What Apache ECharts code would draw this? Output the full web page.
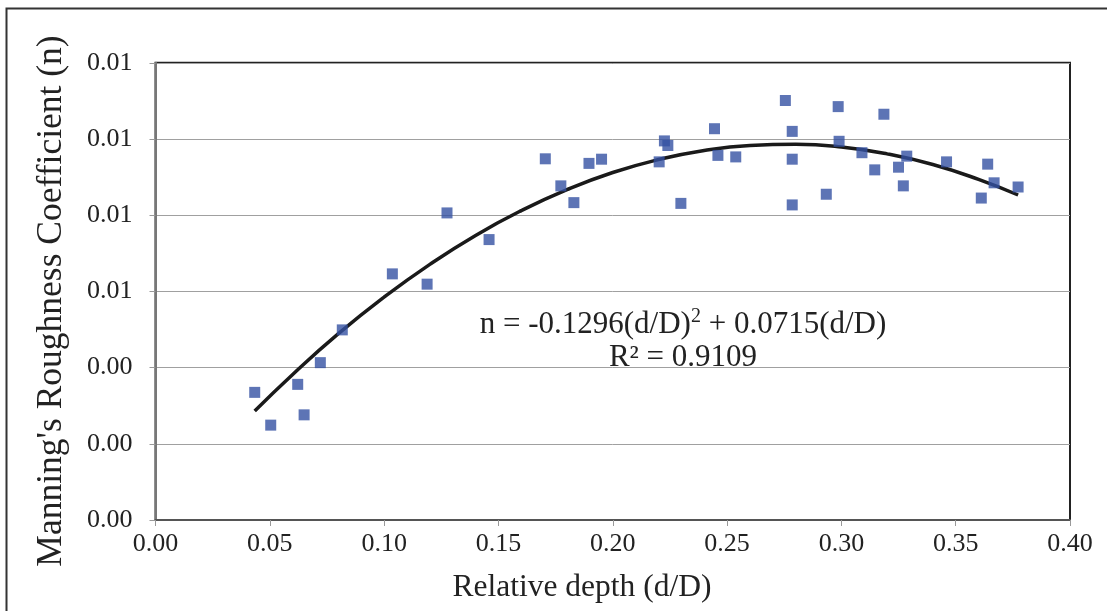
<!DOCTYPE html>
<html>
<head>
<meta charset="utf-8">
<script src="https://cdn.jsdelivr.net/npm/echarts@6/dist/echarts.min.js"></script>
<style>
html,body{margin:0;padding:0;background:#fff;}
#chart{width:1107px;height:611px;}
</style>
</head>
<body>
<div id="chart"></div>
<script>
// Measured data (relative depth d/D, Manning's n)
var depthValues = [0.0434,0.0504,0.0622,0.0650,0.0721,0.0817,0.1036,0.1188,0.1275,0.1459,
  0.1705,0.1773,0.1830,0.1896,0.1951,0.2203,0.2226,0.2241,0.2298,0.2445,
  0.2460,0.2538,0.2755,0.2785,0.2785,0.2785,0.2934,0.2986,0.2990,0.3090,
  0.3146,0.3186,0.3250,0.3271,0.3286,0.3460,0.3612,0.3640,0.3668,0.3773];
var manningValues = [0.00335,0.00249,0.00356,0.00276,0.00413,0.00499,0.00646,0.00619,0.00806,0.00736,
  0.00948,0.00877,0.00833,0.00936,0.00947,0.00940,0.00995,0.00983,0.00831,0.01027,
  0.00957,0.00953,0.01101,0.01020,0.00947,0.00827,0.00855,0.01085,0.00994,0.00964,
  0.00919,0.01065,0.00926,0.00877,0.00955,0.00940,0.00845,0.00934,0.00885,0.00874];
// Trend line points
var trendX = [0.0434,0.06,0.08,0.10,0.12,0.14,0.16,0.18,0.20,0.22,0.24,0.26,0.28,0.30,0.32,0.34,0.36,0.3773];
var trendY = [0.00286,0.00382,0.00489,0.00585,0.00671,0.00747,0.00812,0.00867,0.00912,0.00946,0.00970,0.00983,0.00986,0.00979,0.00961,0.00933,0.00894,0.00853];
var xTicks = [0,0.05,0.10,0.15,0.20,0.25,0.30,0.35,0.40];
var yTicks = [0,0.002,0.004,0.006,0.008,0.010,0.012];
var xTitle = 'Relative depth (d/D)';
var yTitle = "Manning's Roughness Coefficient (n)";
var equationText = ['n = -0.1296(d/D)', '2', ' + 0.0715(d/D)'];
var r2Text = 'R² = 0.9109';

var font = '"Liberation Serif","Times New Roman",serif';
var chart = echarts.init(document.getElementById('chart'), null, {renderer:'canvas'});
var pts = depthValues.map(function(x,i){return [x, manningValues[i]];});
var trend = trendX.map(function(x,i){return [x, trendY[i]];});

chart.setOption({
  backgroundColor:'#fff',
  animation:false,
  grid:{left:155.5, right:37, top:62.8, bottom:91, show:true, borderColor:'#222', borderWidth:2, backgroundColor:'transparent'},
  xAxis:{
    type:'value', min:xTicks[0], max:xTicks[xTicks.length-1], interval:0.05,
    axisLine:{show:true, onZero:false, lineStyle:{color:'#555', width:2}},
    axisTick:{show:true, length:6, lineStyle:{color:'#999'}},
    axisLabel:{fontFamily:font, fontSize:26, color:'#222', margin:11, formatter:function(v){return v.toFixed(2);}},
    splitLine:{show:false}
  },
  yAxis:{
    type:'value', min:yTicks[0], max:yTicks[yTicks.length-1], interval:0.002,
    axisLine:{show:true, onZero:false, lineStyle:{color:'#777', width:2}},
    axisTick:{show:true, length:6, lineStyle:{color:'#999'}},
    axisLabel:{fontFamily:font, fontSize:26, color:'#222', margin:23, formatter:function(v){return v.toFixed(2);}},
    splitLine:{show:true, lineStyle:{color:'#a0a0a0', width:1}}
  },
  series:[
    {type:'scatter', data:pts, symbol:'rect', symbolSize:11,
     itemStyle:{color:'#3551A3'}, z:3},
    {type:'line', data:trend, smooth:true, showSymbol:false, symbol:'none',
     lineStyle:{color:'#1a1a1a', width:3.5}, z:2}
  ],
  graphic:[
    {type:'rect', left:4, top:6, shape:{width:1120, height:640}, style:{fill:'none', stroke:'#333', lineWidth:2}, silent:true},
    {type:'text', x:52, y:301, rotation:Math.PI/2, style:{text:yTitle, align:'center', verticalAlign:'middle', fontFamily:font, fontSize:35.5, fill:'#222'}},
    {type:'text', x:582, y:588, style:{text:xTitle, align:'center', verticalAlign:'middle', fontFamily:font, fontSize:31.5, fill:'#222'}},
    {type:'text', x:683, y:325, style:{
      text:'{a|'+equationText[0]+'}{s|'+equationText[1]+'}{a|'+equationText[2]+'}',
      align:'center', verticalAlign:'middle',
      rich:{a:{fontFamily:font, fontSize:31, fill:'#222', color:'#222'}, s:{fontFamily:font, fontSize:20, fill:'#222', color:'#222', verticalAlign:'top', padding:[0,0,16,0]}}
    }},
    {type:'text', x:683, y:358, style:{text:r2Text, align:'center', verticalAlign:'middle', fontFamily:font, fontSize:31, fill:'#222'}}
  ]
});
</script>
</body>
</html>
